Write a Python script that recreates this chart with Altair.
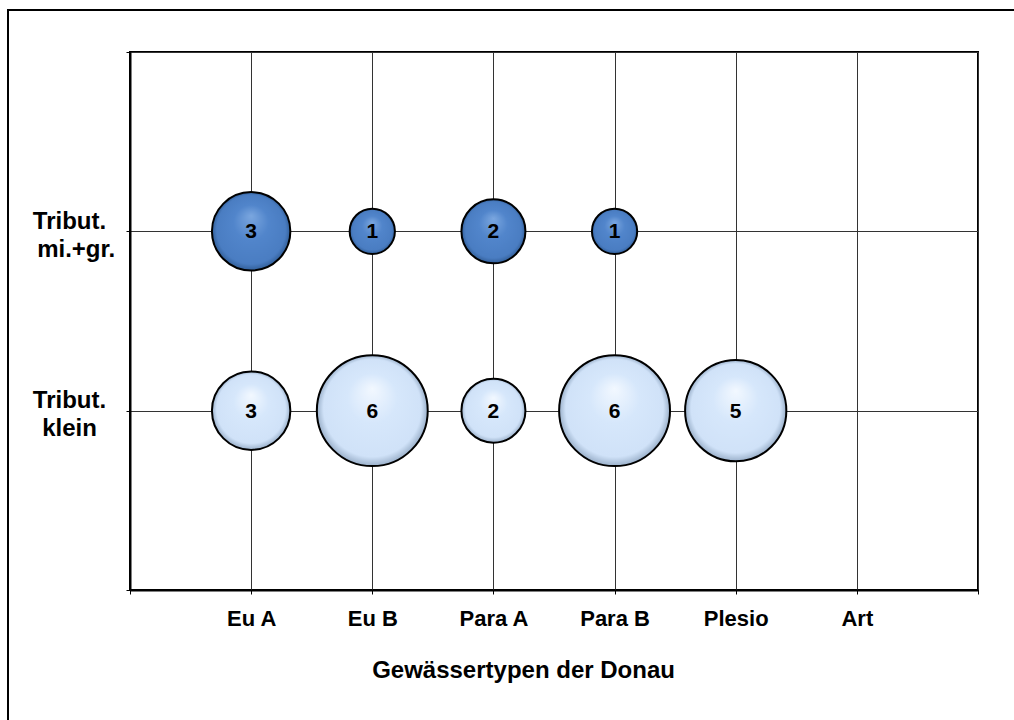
import altair as alt
import pandas as pd

categories = ["Eu A", "Eu B", "Para A", "Para B", "Plesio", "Art"]
row_labels = ["Tribut. klein", "Tribut. mi.+gr."]
klein = [3, 6, 2, 6, 5, None]
mi_gr = [3, 1, 2, 1, None, None]

rows = []
for i, c in enumerate(categories):
    if klein[i] is not None:
        rows.append({"cat": c, "xi": i + 1, "row": row_labels[0], "yi": 1, "val": klein[i], "series": "klein"})
    if mi_gr[i] is not None:
        rows.append({"cat": c, "xi": i + 1, "row": row_labels[1], "yi": 2, "val": mi_gr[i], "series": "migr"})
df = pd.DataFrame(rows)

x_label_expr = "[" + ",".join(["''"] + ["'" + c + "'" for c in categories] + ["''"]) + "][datum.value]"
y_label_expr = ("datum.value == 2 ? ['Tribut.', '\u200b\u00a0\u00a0mi.+gr.'] : "
                "(datum.value == 1 ? ['Tribut.', 'klein'] : '')")

W, H = 848, 538
PL, PT = 130, 52

x_enc = alt.X("xi:Q", scale=alt.Scale(domain=[0, 7], nice=False, zero=False),
              axis=alt.Axis(values=list(range(0, 8)), labelExpr=x_label_expr,
                            title="Gewässertypen der Donau", grid=True,
                            gridColor="#333333", gridWidth=1,
                            domainColor="black", domainWidth=2,
                            tickColor="black", tickSize=4, tickWidth=1,
                            labelFont="Liberation Sans", labelFontSize=22, labelFontWeight="bold",
                            labelColor="black", labelPadding=14,
                            titleFont="Liberation Sans", titleFontSize=24, titleFontWeight="bold",
                            titleColor="black", titleY=87, titleX=393, titleAlign="center",
                            titleAnchor="start", titleBaseline="alphabetic"))
y_enc = alt.Y("yi:Q", scale=alt.Scale(domain=[0, 3], nice=False, zero=False),
              axis=alt.Axis(values=[0, 1, 2, 3], labelExpr=y_label_expr, title=None, grid=True,
                            gridColor="#333333", gridWidth=1,
                            domainColor="black", domainWidth=2,
                            tickColor="black", tickSize=4, tickWidth=1,
                            labelFont="Liberation Sans", labelFontSize=24, labelFontWeight="bold",
                            labelColor="black", labelAlign="center", labelBaseline="alphabetic",
                            labelOffset=-3, labelPadding=57, labelLineHeight=28))
size_enc = alt.Size("val:Q", scale=alt.Scale(domain=[0, 6], range=[0, 12300]), legend=None)

dark_grad = alt.RadialGradient(
    gradient="radial", x1=0.5, y1=0.3, r1=0, x2=0.5, y2=0.5, r2=0.5,
    stops=[alt.GradientStop(offset=0, color="#7AA6DF"),
           alt.GradientStop(offset=0.45, color="#5185CB"),
           alt.GradientStop(offset=0.88, color="#4A7DC2"),
           alt.GradientStop(offset=1, color="#315E98")])
light_grad = alt.RadialGradient(
    gradient="radial", x1=0.5, y1=0.3, r1=0, x2=0.5, y2=0.5, r2=0.5,
    stops=[alt.GradientStop(offset=0, color="#F2F8FF"),
           alt.GradientStop(offset=0.45, color="#D6E7FB"),
           alt.GradientStop(offset=0.88, color="#D0E2F8"),
           alt.GradientStop(offset=1, color="#9AB0CA")])

base = alt.Chart(df)

frame = alt.Chart(pd.DataFrame({"a": [0]})).mark_rect(
    fill="white", fillOpacity=0, stroke="black", strokeWidth=2
).encode(x=alt.value(8 - PL), x2=alt.value(1014 - PL + 20),
         y=alt.value(10 - PT), y2=alt.value(720 - PT + 20))

pts_light = base.transform_filter(alt.datum.series == "klein").mark_point(
    shape="circle", filled=True, fill=light_grad, stroke="black", strokeWidth=2, opacity=1
).encode(x=x_enc, y=y_enc, size=size_enc)
pts_dark = base.transform_filter(alt.datum.series == "migr").mark_point(
    shape="circle", filled=True, fill=dark_grad, stroke="black", strokeWidth=2, opacity=1
).encode(x=x_enc, y=y_enc, size=size_enc)

labels = base.mark_text(font="Liberation Sans", fontSize=21, fontWeight="bold",
                        color="black", baseline="middle", align="center", dy=1).encode(
    x=x_enc, y=y_enc, text="val:Q")

chart = alt.layer(frame, pts_light, pts_dark, labels).properties(
    width=W, height=H,
    padding={"left": PL, "top": PT, "right": 1014 - PL - W, "bottom": 720 - PT - H},
    autosize=alt.AutoSizeParams(type="none"),
    background="white",
).configure_view(stroke="black", strokeWidth=2)

chart.save("out.html", embed_options={"renderer": "svg", "actions": False})
